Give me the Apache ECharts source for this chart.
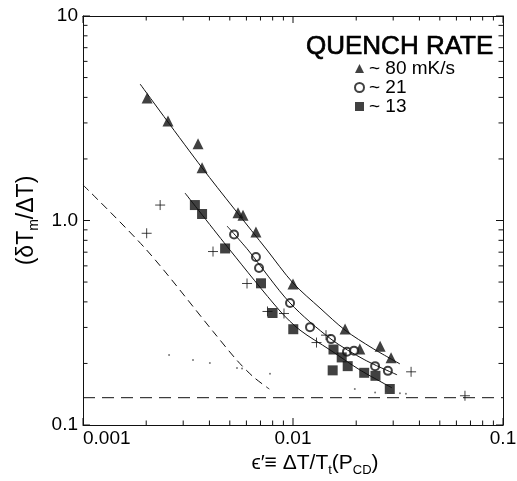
<!DOCTYPE html>
<html>
<head>
<meta charset="utf-8">
<script src="https://cdn.jsdelivr.net/npm/echarts@6/dist/echarts.min.js"></script>
<style>
  html,body{margin:0;padding:0;background:#fff;}
  #main{width:517px;height:481px;}
</style>
</head>
<body>
<div id="main"></div>
<script>
// 数据 (从图上读出来的)
const triX = [0.00202, 0.00254, 0.00353, 0.00369, 0.00547, 0.00578, 0.00666, 0.0100, 0.0177, 0.0208, 0.0260, 0.0293];
const triY = [3.97, 3.07, 2.37, 1.81, 1.09, 1.06, 0.879, 0.489, 0.295, 0.235, 0.243, 0.213];

const circX = [0.00524, 0.00666, 0.00689, 0.00968, 0.01205, 0.01517, 0.01807, 0.01952, 0.0246, 0.0283];
const circY = [0.854, 0.663, 0.586, 0.395, 0.301, 0.263, 0.228, 0.231, 0.194, 0.184];

const sqX = [0.00341, 0.00369, 0.00475, 0.00704, 0.00799, 0.01003, 0.01559, 0.01706, 0.01545, 0.01822, 0.02183, 0.0247, 0.0289];
const sqY = [1.19, 1.076, 0.730, 0.493, 0.353, 0.294, 0.234, 0.214, 0.185, 0.194, 0.180, 0.174, 0.150];

const crossX = [0.00233, 0.00201, 0.00416, 0.00604, 0.00756, 0.00906, 0.01294, 0.01436, 0.0365, 0.0659];
const crossY = [1.19, 0.866, 0.705, 0.492, 0.359, 0.351, 0.253, 0.275, 0.182, 0.139];

const dotX = [0.00257, 0.00334, 0.00402, 0.00541, 0.00572, 0.00777, 0.0197, 0.0246, 0.0277, 0.0323, 0.0345];
const dotY = [0.220, 0.208, 0.201, 0.190, 0.189, 0.178, 0.150, 0.144, 0.143, 0.143, 0.142];

// 拟合曲线
const fitTriX = [0.00187, 0.00369, 0.00752, 0.0100, 0.01345, 0.0177, 0.0238, 0.0323];
const fitTriY = [4.65, 1.81, 0.717, 0.495, 0.373, 0.291, 0.238, 0.199];
const fitCircX = [0.00485, 0.00611, 0.00968, 0.01517, 0.0220, 0.0313];
const fitCircY = [0.940, 0.717, 0.395, 0.263, 0.208, 0.176];
const fitSqX = [0.00306, 0.00501, 0.00867, 0.01080, 0.0150, 0.0208, 0.0296];
const fitSqY = [1.363, 0.717, 0.361, 0.291, 0.233, 0.186, 0.152];

// 虚线
const dashX = [0.001, 0.00201, 0.00417, 0.00539, 0.00647, 0.00771];
const dashY = [1.492, 0.717, 0.286, 0.208, 0.172, 0.150];
const baseX = [0.001, 0.1];
const baseY = [0.136, 0.136];

// 刻度
const xTicks = [0.001, 0.002, 0.003, 0.004, 0.005, 0.006, 0.007, 0.008, 0.009,
  0.01, 0.02, 0.03, 0.04, 0.05, 0.06, 0.07, 0.08, 0.09, 0.1];
const yTicks = [0.1, 0.2, 0.3, 0.4, 0.5, 0.6, 0.7, 0.8, 0.9,
  1, 2, 3, 4, 5, 6, 7, 8, 9, 10];
const xMajor = [0.001, 0.01, 0.1];
const yMajor = [0.1, 1, 10];
const X_MIN = 0.001, X_MAX = 0.1, Y_MIN = 0.1, Y_MAX = 10;

const legendNames = ['~ 80 mK/s', '~ 21', '~ 13'];

const FONT = 'Liberation Sans';
const INK = '#111';

function pairs(xs, ys) {
  return xs.map((x, i) => [x, ys[i]]);
}

function xAxisOf(pos, labels) {
  return {
    type: 'log', logBase: 10, min: X_MIN, max: X_MAX, position: pos,
    axisLine: { show: true, lineStyle: { color: INK, width: 1 } },
    axisTick: { show: false },
    axisLabel: {
      show: labels, margin: 4, color: '#000', fontFamily: FONT, fontSize: 19,
      alignMinLabel: 'left'
    },
    splitLine: { show: false }
  };
}

function yAxisOf(pos, labels) {
  return {
    type: 'log', logBase: 10, min: Y_MIN, max: Y_MAX, position: pos,
    axisLine: { show: true, lineStyle: { color: INK, width: 1 } },
    axisTick: { show: false },
    axisLabel: {
      show: labels, margin: 5, color: '#000', fontFamily: FONT, fontSize: 19,
      formatter: function (v) { return v === 1 ? '1.0' : String(v); }
    },
    splitLine: { show: false }
  };
}

// 刻度线: custom 系列, 用坐标轴换算位置, 朝内画短线
// side: 0 下, 1 上, 2 左, 3 右
function tickSeries(side, values) {
  let data = values.map(v => {
    if (side === 0) return [v, Y_MIN];
    if (side === 1) return [v, Y_MAX];
    if (side === 2) return [X_MIN, v];
    return [X_MAX, v];
  });
  let majors = side < 2 ? xMajor : yMajor;
  return {
    type: 'custom', data: data, clip: false, silent: true, z: 10,
    renderItem: function (params, api) {
      let p = api.coord([api.value(0), api.value(1)]);
      let v = side < 2 ? api.value(0) : api.value(1);
      let len = majors.some(m => Math.abs(m - v) / m < 1e-6) ? 7 : 4.5;
      let dx = 0, dy = 0;
      if (side === 0) dy = -len;
      if (side === 1) dy = len;
      if (side === 2) dx = len;
      if (side === 3) dx = -len;
      return {
        type: 'line',
        shape: { x1: p[0], y1: p[1], x2: p[0] + dx, y2: p[1] + dy },
        style: { stroke: INK, lineWidth: 1 }
      };
    }
  };
}

function getOption() {
  let xBottom = xAxisOf('bottom', true);
  xBottom.name = '{a|ϵ′≡ ΔT/T}{s|t}{a|(P}{s|CD}{a|)}';
  xBottom.nameLocation = 'middle';
  xBottom.nameGap = 22;
  xBottom.nameTextStyle = {
    padding: [0, 0, 0, 44],
    rich: {
      a: { fontFamily: FONT, fontSize: 21, color: '#000', lineHeight: 28 },
      s: { fontFamily: FONT, fontSize: 13, color: '#000', lineHeight: 28, verticalAlign: 'bottom', padding: [10, 0, 0, 0] }
    }
  };
  let yLeft = yAxisOf('left', true);
  yLeft.name = '{a|(δT}{s|m}{a|/ΔT)}';
  yLeft.nameLocation = 'middle';
  yLeft.nameGap = 42;
  yLeft.nameTextStyle = {
    rich: {
      a: { fontFamily: FONT, fontSize: 23, color: '#000', lineHeight: 28 },
      s: { fontFamily: FONT, fontSize: 14, color: '#000', lineHeight: 28, verticalAlign: 'bottom', padding: [10, 0, 0, 0] }
    }
  };

  const markerStyle = { color: INK };
  return {
    animation: false,
    backgroundColor: '#fff',
    title: {
      text: 'QUENCH RATE', left: 301, top: 29,
      textStyle: { fontFamily: FONT, fontSize: 26, fontWeight: 'normal', color: '#000',
        textBorderColor: '#000', textBorderWidth: 0.7 }
    },
    legend: {
      data: legendNames, orient: 'vertical', left: 349, top: 54,
      itemWidth: 9, itemHeight: 9, itemGap: 0,
      textStyle: { fontFamily: FONT, fontSize: 19, color: '#000', lineHeight: 18.5 }
    },
    grid: { left: 83, top: 16, right: 14, bottom: 56, containLabel: false, outerBoundsMode: 'none' },
    xAxis: [xBottom, xAxisOf('top', false)],
    yAxis: [yLeft, yAxisOf('right', false)],
    series: [
      // 拟合线
      { type: 'line', data: pairs(fitTriX, fitTriY), smooth: 0.3, showSymbol: false, silent: true,
        lineStyle: { color: INK, width: 1 } },
      { type: 'line', data: pairs(fitCircX, fitCircY), smooth: 0.3, showSymbol: false, silent: true,
        lineStyle: { color: INK, width: 1 } },
      { type: 'line', data: pairs(fitSqX, fitSqY), smooth: 0.3, showSymbol: false, silent: true,
        lineStyle: { color: INK, width: 1 } },
      // 虚线
      { type: 'line', data: pairs(dashX, dashY), smooth: 0.3, showSymbol: false, silent: true,
        lineStyle: { color: INK, width: 1, type: [8, 5] } },
      { type: 'line', data: pairs(baseX, baseY), showSymbol: false, silent: true,
        lineStyle: { color: INK, width: 1, type: [12, 7] } },
      // 数据点
      { name: legendNames[0], type: 'scatter', data: pairs(triX, triY), symbol: 'triangle', symbolSize: 11,
        itemStyle: markerStyle },
      { name: legendNames[1], type: 'scatter', data: pairs(circX, circY), symbol: 'emptyCircle', symbolSize: 8,
        itemStyle: { color: INK, borderColor: INK, borderWidth: 1 } },
      { name: legendNames[2], type: 'scatter', data: pairs(sqX, sqY), symbol: 'rect', symbolSize: 10,
        itemStyle: markerStyle },
      { type: 'scatter', data: pairs(crossX, crossY), symbol: 'path://M0,5H10M5,0V10', symbolSize: 10,
        itemStyle: { color: 'rgba(0,0,0,0)', borderColor: INK, borderWidth: 1 } },
      { type: 'scatter', data: pairs(dotX, dotY), symbol: 'circle', symbolSize: 2,
        itemStyle: { color: '#555' } },
      // 四边刻度
      tickSeries(0, xTicks),
      tickSeries(1, xTicks),
      tickSeries(2, yTicks),
      tickSeries(3, yTicks)
    ]
  };
}

let chart = echarts.init(document.getElementById('main'), null, { renderer: 'canvas', width: 517, height: 481 });
chart.setOption(getOption());
</script>
</body>
</html>
